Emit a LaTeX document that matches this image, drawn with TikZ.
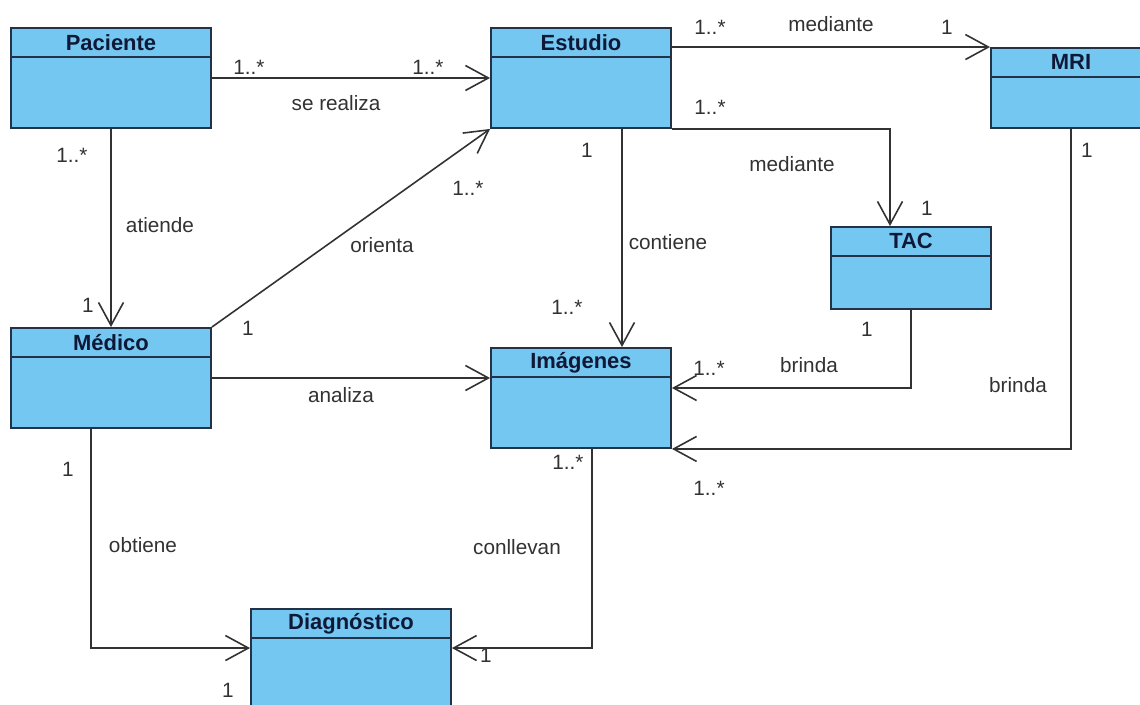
\documentclass[tikz,border=0pt]{standalone}
\usepackage{fontspec}
\setmainfont{Liberation Sans}
\usetikzlibrary{positioning,calc}
\usetikzlibrary{arrows.meta}
\definecolor{ClsBlue}{RGB}{115,199,240}
\definecolor{ClsEdge}{RGB}{35,50,70}
\definecolor{ClsText}{RGB}{15,25,55}
\definecolor{LineGray}{RGB}{50,50,50}
\tikzset{
  cls/.style={draw=ClsEdge,fill=ClsBlue,line width=1.1pt,inner sep=0pt},
  ttl/.style={font=\fontsize{12.5}{14}\selectfont\bfseries,text=ClsText,inner sep=0pt,minimum height=0.6cm},
  assoc/.style={draw=LineGray,line width=0.9pt,-{Straight Barb[length=4.6mm,width=5mm,line width=0.9pt]}},
}
\tikzset{mult/.style={font=\fontsize{11.8}{14}\selectfont,text=LineGray,inner sep=1pt}}
\newcommand\hdrline[1]{\draw[draw=ClsEdge,line width=1.1pt] ([yshift=-0.6cm]#1.north west)--([yshift=-0.6cm]#1.north east);}

\begin{document}
\begin{tikzpicture}[x=0.02cm,y=-0.02cm]
\useasboundingbox (0,0) rectangle (1140,705);
\fill[white] (0,0) rectangle (1140,705);
\clip (0,0) rectangle (1140,705);
% clases
\node[cls,minimum width=4cm,minimum height=2cm](pac) at (111,78){};\node[ttl,below=0pt of pac.north](pacT){Paciente};\hdrline{pac}
\node[cls,minimum width=3.6cm,minimum height=2cm](est) at (581,78){};\node[ttl,below=0pt of est.north](estT){Estudio};\hdrline{est}
\node[cls,minimum width=3.2cm,minimum height=1.6cm](mri) at (1071,88){};\node[ttl,below=0pt of mri.north](mriT){MRI};\hdrline{mri}
\node[cls,minimum width=3.2cm,minimum height=1.64cm](tac) at (911,268){};\node[ttl,below=0pt of tac.north](tacT){TAC};\hdrline{tac}
\node[cls,minimum width=4cm,minimum height=2cm](med) at (111,378){};\node[ttl,below=0pt of med.north](medT){Médico};\hdrline{med}
\node[cls,minimum width=3.6cm,minimum height=2cm](ima) at (581,398){};\node[ttl,below=0pt of ima.north](imaT){Imágenes};\hdrline{ima}
\node[cls,minimum width=4cm,minimum height=2.4cm](dia) at (351,669){};\node[ttl,below=0pt of dia.north](diaT){Diagnóstico};\hdrline{dia}
% asociaciones
\draw[assoc] (pac.east) -- (est.west);
\draw[assoc] (pac.south) -- (med.north);
\draw[assoc] (med.north east) -- (est.south west);
\draw[assoc] (est.east |- mri.north west) -- (mri.north west);
\draw[assoc] (est.south east) -| ($(tac.north)+(-21,0)$);
\draw[assoc] ($(est.south)+(41,0)$) -- ($(ima.north)+(41,0)$);
\draw[assoc] (med.east) -- (med.east -| ima.west);
\draw[assoc] (tac.south) |- ($(ima.east)+(0,-10)$);
\draw[assoc] (mri.south) |- (ima.south east);
\draw[assoc] ($(ima.south)+(11,0)$) |- ($(dia.north east)+(0,40)$);
\draw[assoc] ($(med.south)+(-20,0)$) |- ($(dia.north west)+(0,40)$);
% multiplicidades y roles
\node[mult](pe1) at (249,67){1..*};\node[mult](pe2) at (428,67){1..*};\node[mult](pe3) at (336,103){se realiza};
\node[mult](pm1) at (72,155){1..*};\node[mult](pm2) at (160,225){atiende};\node[mult](pm3) at (88,305){1};
\node[mult](me1) at (248,328){1};\node[mult](me2) at (382,245){orienta};\node[mult](me3) at (468,188){1..*};
\node[mult](er1) at (710,27){1..*};\node[mult](er2) at (831,24){mediante};\node[mult](er3) at (947,27){1};
\node[mult](et1) at (710,107){1..*};\node[mult](et2) at (792,164){mediante};\node[mult](et3) at (927,208){1};
\node[mult](ei1) at (587,150){1};\node[mult](ei2) at (668,242){contiene};\node[mult](ei3) at (567,307){1..*};
\node[mult](mi1) at (341,395){analiza};
\node[mult](ti1) at (867,329){1};\node[mult](ti2) at (809,365){brinda};\node[mult](ti3) at (709,368){1..*};
\node[mult](ri1) at (1087,150){1};\node[mult](ri2) at (1018,385){brinda};\node[mult](ri3) at (709,488){1..*};
\node[mult](id1) at (568,462){1..*};\node[mult](id2) at (517,547){conllevan};\node[mult](id3) at (486,655){1};
\node[mult](md1) at (68,469){1};\node[mult](md2) at (143,545){obtiene};\node[mult](md3) at (228,690){1};
\end{tikzpicture}
\end{document}
